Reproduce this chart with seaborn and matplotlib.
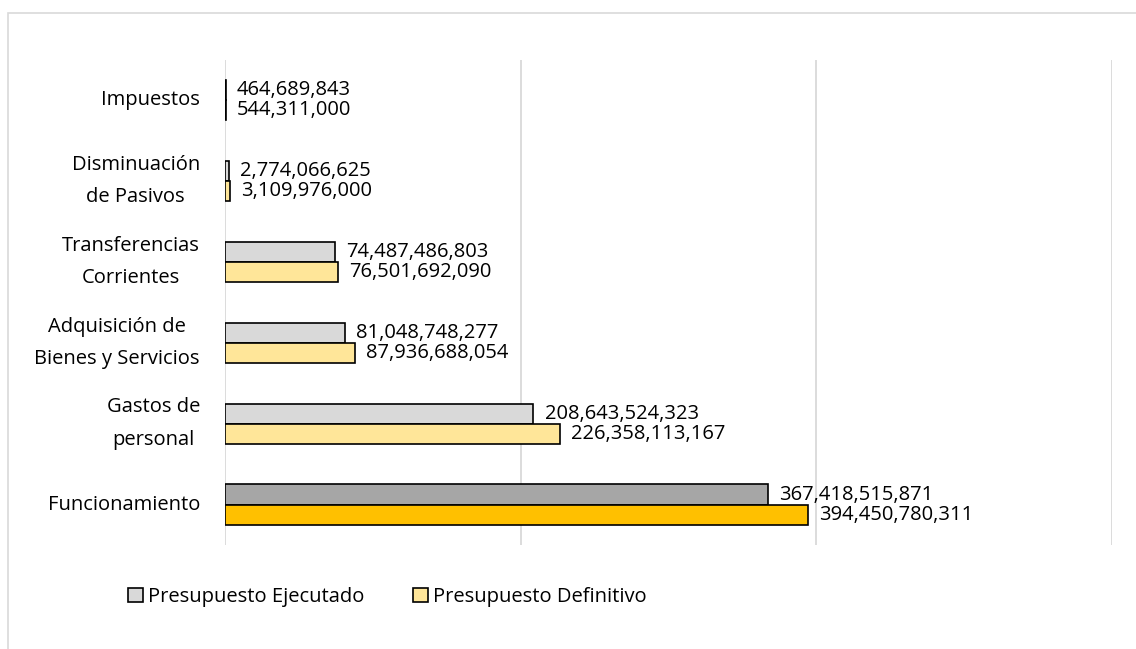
import matplotlib
matplotlib.use("Agg")
import matplotlib.pyplot as plt
import seaborn as sns
import pandas as pd
from matplotlib.patches import Patch, Rectangle

categories = ["Impuestos", "Disminuación\nde Pasivos", "Transferencias\nCorrientes",
              "Adquisición de\nBienes y Servicios", "Gastos de\npersonal", "Funcionamiento"]
ejecutado = [464689843, 2774066625, 74487486803, 81048748277, 208643524323, 367418515871]
definitivo = [544311000, 3109976000, 76501692090, 87936688054, 226358113167, 394450780311]
series = ["Presupuesto Ejecutado", "Presupuesto Definitivo"]

light = {"Presupuesto Ejecutado": "#D9D9D9", "Presupuesto Definitivo": "#FFE699"}
strong = {"Presupuesto Ejecutado": "#A6A6A6", "Presupuesto Definitivo": "#FFC000"}

df = pd.DataFrame({
    "cat": categories * 2,
    "serie": [series[0]] * len(categories) + [series[1]] * len(categories),
    "val": ejecutado + definitivo,
})

sns.set_style("white")
plt.rcParams["font.family"] = ["Open Sans", "DejaVu Sans"]
plt.rcParams["text.color"] = "black"
plt.rcParams["ytick.color"] = "black"

FS = 14.5

fig = plt.figure(figsize=(11.36, 6.49), dpi=100)
ax = fig.add_axes([0.198, 0.160, 0.781, 0.748])

sns.barplot(data=df, y="cat", x="val", hue="serie", orient="h", ax=ax,
            order=categories, hue_order=series, width=0.5, legend=False,
            edgecolor="black", linewidth=1.2, saturation=1)

for k, cont in enumerate(ax.containers):
    s = series[k]
    vals = ejecutado if k == 0 else definitivo
    for i, bar in enumerate(cont.patches):
        bar.set_facecolor(strong[s] if categories[i] == "Funcionamiento" else light[s])
        bar.set_edgecolor("black")
        y = bar.get_y() + bar.get_height() / 2
        ax.annotate(f"{vals[i]:,}", xy=(bar.get_width(), y), xytext=(8, 0),
                    textcoords="offset points", va="center", ha="left",
                    fontsize=FS, color="black")

ax.set_xlim(0, 600e9)
ax.set_xticks([0, 200e9, 400e9, 600e9])
ax.set_xticklabels([])
ax.grid(axis="x", color="#D9D9D9", linewidth=1.3)
ax.grid(axis="y", visible=False)
ax.set_axisbelow(True)
for sp in ax.spines.values():
    sp.set_visible(False)
ax.set_xlabel("")
ax.set_ylabel("")
ax.tick_params(axis="y", length=0, pad=18, labelsize=FS, labelcolor="black")
ax.tick_params(axis="x", length=0)
for t in ax.get_yticklabels():
    t.set_multialignment("center")
    t.set_linespacing(1.85)
    t.set_verticalalignment("center")

handles = [Patch(facecolor=light[s], edgecolor="black", linewidth=1.2, label=s) for s in series]
fig.legend(handles=handles, loc="center", bbox_to_anchor=(0.341, 0.08), ncol=2,
           frameon=False, fontsize=FS, handlelength=0.75, handleheight=0.75,
           handletextpad=0.25, columnspacing=2.4)

fig.add_artist(Rectangle((8 / 1136, -0.1), 1.2, 1.1 - 13 / 649,
                         transform=fig.transFigure, fill=False,
                         edgecolor="#D9D9D9", linewidth=1.2))

fig.savefig("out.png", dpi=100)
